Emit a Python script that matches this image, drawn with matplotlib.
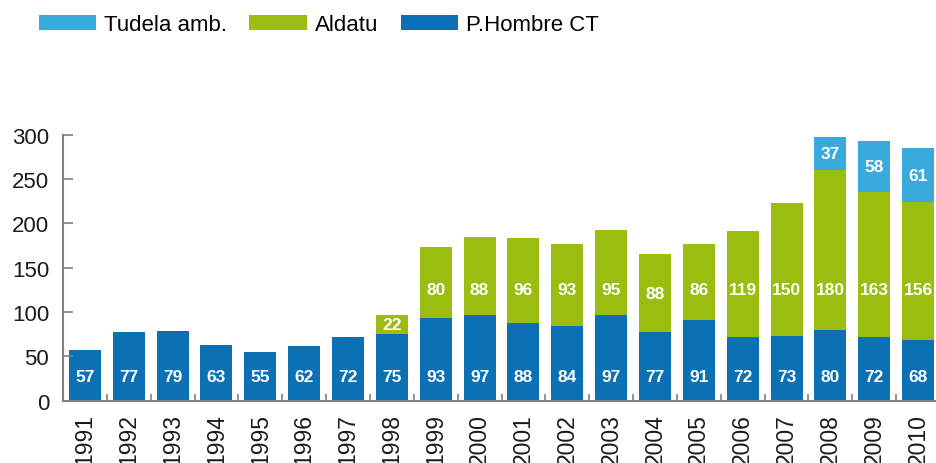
import matplotlib
matplotlib.use('Agg')
import matplotlib.pyplot as plt
from matplotlib.ticker import FixedLocator
import numpy as np

years = ['1991', '1992', '1993', '1994', '1995', '1996', '1997', '1998', '1999', '2000',
         '2001', '2002', '2003', '2004', '2005', '2006', '2007', '2008', '2009', '2010']
phombre = [57, 77, 79, 63, 55, 62, 72, 75, 93, 97, 88, 84, 97, 77, 91, 72, 73, 80, 72, 68]
aldatu = [0, 0, 0, 0, 0, 0, 0, 22, 80, 88, 96, 93, 95, 88, 86, 119, 150, 180, 163, 156]
tudela = [0, 0, 0, 0, 0, 0, 0, 0, 0, 0, 0, 0, 0, 0, 0, 0, 0, 37, 58, 61]

c_ph = '#0b71b4'
c_al = '#9abd0f'
c_tu = '#3aa9dc'
grey = '#808080'

plt.rcParams['font.family'] = ['Liberation Sans', 'DejaVu Sans']

fig = plt.figure(figsize=(9.36, 4.64), dpi=100)
ax = fig.add_axes([63 / 936, 0.1343, 877 / 936, 0.5733])

x = np.arange(len(years))
ph = np.array(phombre)
al = np.array(aldatu)
tu = np.array(tudela)
w = 0.73

b1 = ax.bar(x, ph, w, color=c_ph, label='P.Hombre CT')
b2 = ax.bar(x, al, w, bottom=ph, color=c_al, label='Aldatu')
b3 = ax.bar(x, tu, w, bottom=ph + al, color=c_tu, label='Tudela amb.')

# etiquetas dentro de las barras
lab = dict(color='white', fontsize=12.5, fontweight='bold', ha='center', va='center')
for i in x:
    ax.text(i, 27, str(ph[i]), **lab)
    if al[i] > 0:
        ax.text(i, min(ph[i] + al[i] / 2, 125), str(al[i]), **lab)
    if tu[i] > 0:
        ax.text(i, ph[i] + al[i] + tu[i] / 2, str(tu[i]), **lab)

ax.set_xlim(-0.5, len(years) - 0.5)
ax.set_ylim(0, 300)
ax.set_yticks([0, 50, 100, 150, 200, 250, 300])
ax.set_xticks(x)
ax.set_xticklabels(years, rotation=90)
ax.xaxis.set_minor_locator(FixedLocator(np.arange(0.5, len(years) - 0.5, 1)))

for s in ['top', 'right']:
    ax.spines[s].set_visible(False)
for s in ['left', 'bottom']:
    ax.spines[s].set_color(grey)
    ax.spines[s].set_linewidth(1.5)

ax.tick_params(axis='y', direction='in', length=7, width=1.2, color=grey,
               labelsize=16, pad=10, labelcolor='#1a1a1a')
ax.tick_params(axis='x', which='major', length=0, labelsize=16.5, pad=9,
               labelcolor='#1a1a1a')
ax.tick_params(axis='x', which='minor', direction='in', length=5, width=1.2, color=grey)

fig.legend(handles=[b3, b2, b1], loc='upper left', bbox_to_anchor=(0.02, 1.01),
           ncol=3, frameon=False, prop={'size': 16}, handlelength=2.6, handleheight=0.7,
           handletextpad=0.35, columnspacing=1.0)

fig.savefig('out.png', dpi=100)
